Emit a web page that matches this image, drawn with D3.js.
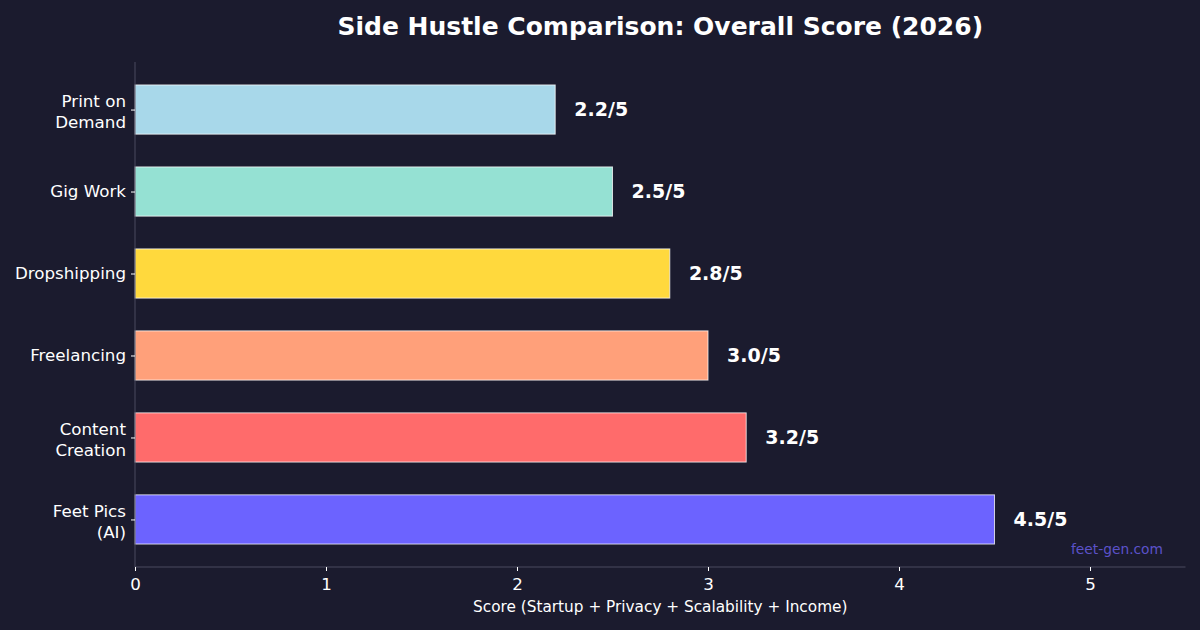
<!DOCTYPE html>
<html><head><meta charset="utf-8">
<script src="https://cdn.jsdelivr.net/npm/d3@7"></script>
<style>html,body{margin:0;padding:0;background:#1b1b2e;}svg{display:block;font-family:"DejaVu Sans",sans-serif;}</style>
</head><body><svg id="c" width="1200" height="630"></svg>
<script>
const categories = ["Feet Pics\n(AI)", "Content\nCreation", "Freelancing", "Dropshipping", "Gig Work", "Print on\nDemand"];
const scores = [4.5, 3.2, 3.0, 2.8, 2.5, 2.2];
const colors = ["#6c63ff", "#ff6b6b", "#ffa07a", "#ffd93d", "#95e1d3", "#a8d8ea"];
const xTicks = [0, 1, 2, 3, 4, 5];
const titleText = "Side Hustle Comparison: Overall Score (2026)";
const xLabelText = "Score (Startup + Privacy + Scalability + Income)";
const watermark = "feet-gen.com";

const svg = d3.select("#c");
svg.append("rect").attr("width",1200).attr("height",630).attr("fill","#1b1b2e");
const L=135, R=1185.5, T=62, B=567;
const x = d3.scaleLinear().domain([0,5.5]).range([L,R]);
const y = d3.scaleLinear().domain([-0.58,5.58]).range([B,T]);
const bh = 0.6;

svg.selectAll("rect.bar").data(scores).enter().append("rect").attr("class","bar")
  .attr("x", x(0)).attr("y", (d,i)=>y(i+bh/2))
  .attr("width", d=>x(d)-x(0)).attr("height", (d,i)=>y(i-bh/2)-y(i+bh/2))
  .attr("fill",(d,i)=>colors[i]).attr("stroke","rgba(255,255,255,0.75)").attr("stroke-width",1);

svg.selectAll("text.val").data(scores).enter().append("text").attr("class","val")
  .attr("x", d=>x(d+0.1)).attr("y",(d,i)=>y(i)).attr("dy","0.35em")
  .attr("fill","#ffffff").attr("font-weight","bold").attr("font-size","19px")
  .text(d=>d.toFixed(1)+"/5");

// spines
svg.append("line").attr("x1",L).attr("x2",L).attr("y1",T).attr("y2",B).attr("stroke","#4a4a5e").attr("stroke-width",1);
svg.append("line").attr("x1",L).attr("x2",R).attr("y1",B).attr("y2",B).attr("stroke","#4a4a5e").attr("stroke-width",1);

// x axis
const xa = svg.append("g").attr("transform",`translate(0,${B})`)
  .call(d3.axisBottom(x).tickValues(xTicks).tickFormat(d3.format("d")).tickSize(4).tickSizeOuter(0));
xa.select(".domain").remove();
xa.selectAll("line").attr("stroke","#ffffff");
xa.selectAll("text").attr("fill","#ffffff").attr("font-size","16.7px").attr("font-family","DejaVu Sans").attr("dy","0.95em");

// y axis
const ya = svg.append("g").attr("transform",`translate(${L},0)`)
  .call(d3.axisLeft(y).tickValues(d3.range(categories.length)).tickFormat("").tickSize(4).tickSizeOuter(0));
ya.select(".domain").remove();
ya.selectAll("line").attr("stroke","#ffffff");
categories.forEach((c,i)=>{
  const lines = c.split("\n");
  const t = svg.append("text").attr("x",L-9).attr("text-anchor","end").attr("fill","#ffffff").attr("font-size","16.7px");
  const lh = 21;
  const y0 = y(i) - (lines.length-1)*lh/2 + (lines.length>1?2:0);
  lines.forEach((ln,j)=>t.append("tspan").attr("x",L-9).attr("y",y0+j*lh).attr("dy","0.35em").text(ln));
});

svg.append("text").attr("x",(L+R)/2).attr("y",35).attr("text-anchor","middle").attr("fill","#ffffff")
  .attr("font-weight","bold").attr("font-size","25px").text(titleText);
svg.append("text").attr("x",(L+R)/2).attr("y",612).attr("text-anchor","middle").attr("fill","#ffffff")
  .attr("font-size","15.3px").text(xLabelText);
svg.append("text").attr("x",1163).attr("y",554).attr("text-anchor","end").attr("fill","#5b52c9")
  .attr("font-size","13.8px").text(watermark);
</script></body></html>
